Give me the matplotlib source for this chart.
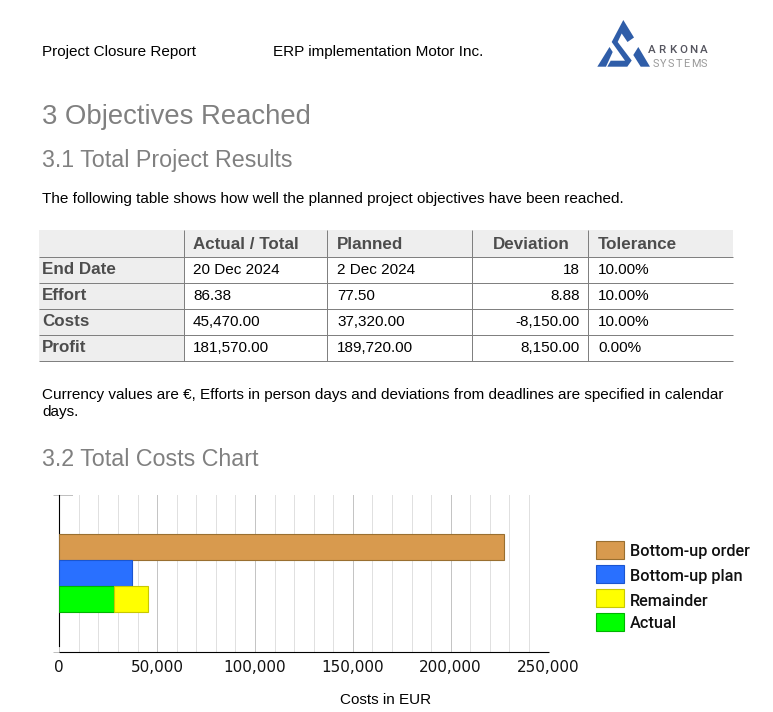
import matplotlib
matplotlib.use("Agg")
from matplotlib import pyplot as plt
from matplotlib.patches import Polygon, Rectangle
from matplotlib.ticker import FuncFormatter, MultipleLocator

# Table content
table_header = ['', 'Actual / Total', 'Planned', 'Deviation', 'Tolerance']
row_names = ['End Date', 'Effort', 'Costs', 'Profit']
actual_col = ['20 Dec 2024', '86.38', '45,470.00', '181,570.00']
planned_col = ['2 Dec 2024', '77.50', '37,320.00', '189,720.00']
deviation_col = ['18', '8.88', '-8,150.00', '8,150.00']
tolerance_col = ['10.00%', '10.00%', '10.00%', '0.00%']

# Chart values
order_cost = 227040
plan_cost = 37320
actual_cost = 28200
remainder_cost = 17270
legend_names = ['Bottom-up order', 'Bottom-up plan', 'Remainder', 'Actual']
legend_colors = ['#d89a4e', '#2970ff', '#ffff00', '#00ff00']
legend_edges = ['#996f30', '#1a55d0', '#c8c800', '#00b400']

BODY = 'Liberation Sans'
PX = 0.72  # pixels to points at dpi 100

fig = plt.figure(figsize=(7.73, 7.12), dpi=100, facecolor='white')

# Page layer in pixel coordinates
page = fig.add_axes([0, 0, 1, 1])
page.set_xlim(0, 773)
page.set_ylim(712, 0)
page.axis('off')


def put(x, y, s, size=15.2, color='black', weight='normal', ha='left', family=BODY):
    page.text(x, y, s, fontsize=size * PX, color=color, fontweight=weight, ha=ha,
              va='baseline', family=family)


put(42, 56, 'Project Closure Report')
put(273, 56, 'ERP implementation Motor Inc.')
put(42, 124, '3 Objectives Reached', size=27.5, color='#808080')
put(42, 167.5, '3.1 Total Project Results', size=23.2, color='#808080')
put(42, 203, 'The following table shows how well the planned project objectives have been reached.')
put(42, 399, 'Currency values are €, Efforts in person days and deviations from deadlines are specified in calendar')
put(42, 416, 'days.')
put(42, 466, '3.2 Total Costs Chart', size=23.2, color='#808080')

# Logo
blue = '#2f5da8'
left_leg = [(597.3, 66.7), (606, 66.7), (612.7, 52), (609.5, 47)]
s_shape = [(623.3, 20), (634, 37.5), (627.5, 42), (621.7, 33.5), (617.7, 42), (631.7, 60.5),
           (627.3, 66.7), (607.3, 66.7), (610.7, 60.7), (625, 60.7), (611.7, 42)]
right_leg = [(638.3, 47), (650, 66.7), (640.7, 66.7), (633.3, 55)]
for pts in [left_leg, s_shape, right_leg]:
    page.add_patch(Polygon(pts, closed=True, facecolor=blue, edgecolor='none'))
for i, ch in enumerate('ARKONA'):
    put(648 + i * 10.4, 53, ch, size=11.5, color='#55555f', family='Roboto', weight='medium')
systems_x = [652.5, 660.3, 668.1, 675.9, 683.5, 691, 701]
for x, ch in zip(systems_x, 'SYSTEMS'):
    put(x, 67, ch, size=11, color='#9a9a9a', family='Roboto')

# Table
col_lines = [183.5, 327, 471.5, 588]
row_lines = [257, 283, 309, 335, 360.5]
header_base = 249
row_bases = [274, 300, 326, 352]
grey_bg = '#eeeeee'
line_col = '#808080'
head_col = '#4d4d4d'
page.add_patch(Rectangle((39, 230), 694, 27, facecolor=grey_bg, edgecolor='none'))
page.add_patch(Rectangle((39, 257), 144.5, 103.5, facecolor=grey_bg, edgecolor='none'))
for y in row_lines:
    page.plot([39, 733], [y, y], color=line_col, lw=0.72, solid_capstyle='butt')
for x in col_lines:
    page.plot([x, x], [230, 360.5], color=line_col, lw=0.72, solid_capstyle='butt')
for x, name in zip([193, 337, 493, 598], table_header[1:]):
    put(x, header_base, name, size=17, color=head_col, weight='bold')
for i, base in enumerate(row_bases):
    put(42, base, row_names[i], size=17, color=head_col, weight='bold')
    put(193, base, actual_col[i])
    put(337, base, planned_col[i])
    put(580, base, deviation_col[i], ha='right')
    put(598, base, tolerance_col[i])

# Legend
legend_tops = [540.5, 564.5, 588.5, 612.5]
legend_bases = [556, 581, 606.5, 627.5]
for name, col, edge, top, base in zip(legend_names, legend_colors, legend_edges, legend_tops, legend_bases):
    page.add_patch(Rectangle((596, top), 27.5, 18, facecolor=col, edgecolor=edge, lw=0.8))
    put(629.5, base, name, size=16.2, color='#111111', family='Roboto', weight='medium')

# Chart
ax = fig.add_axes([59.3 / 773, (712 - 651.5) / 712, 489.2 / 773, 156.5 / 712])
ax.patch.set_alpha(0)
ax.set_xlim(0, 250000)
ax.set_ylim(4, -2)
ax.barh(0, order_cost, height=1, color=legend_colors[0], edgecolor=legend_edges[0], lw=0.8, zorder=3)
ax.barh(1, plan_cost, height=1, color=legend_colors[1], edgecolor=legend_edges[1], lw=0.8, zorder=3)
ax.barh(2, actual_cost, height=1, color=legend_colors[3], edgecolor=legend_edges[3], lw=0.8, zorder=3)
ax.barh(2, remainder_cost, left=actual_cost, height=1, color=legend_colors[2], edgecolor=legend_edges[2], lw=0.8, zorder=3)

ax.xaxis.set_major_locator(MultipleLocator(50000))
ax.xaxis.set_minor_locator(MultipleLocator(10000))
ax.xaxis.set_major_formatter(FuncFormatter(lambda v, p: f'{int(v):,}'))
ax.grid(True, axis='x', which='major', color='#c4c4c4', lw=0.72, zorder=1)
ax.grid(True, axis='x', which='minor', color='#e0e0e0', lw=0.72, zorder=1)
ax.tick_params(axis='x', which='both', length=0, pad=6, labelsize=15.3 * PX, labelcolor='#111111')
ax.set_yticks([-2, 4])
ax.set_yticklabels([])
ax.tick_params(axis='y', length=4.5, color='#c0c0c0', width=0.72)
ax.plot([0, 6500], [-2, -2], color='#c0c0c0', lw=0.72, zorder=2, clip_on=False)

for side in ['top', 'right']:
    ax.spines[side].set_visible(False)
ax.spines['left'].set_bounds(3.79, -2)
ax.spines['left'].set_linewidth(0.8)
ax.spines['bottom'].set_linewidth(0.8)
ax.spines['bottom'].set_capstyle('butt')
ax.set_axisbelow(True)

put(386, 704, 'Costs in EUR', ha='center')

fig.savefig('out.png', dpi=100)
